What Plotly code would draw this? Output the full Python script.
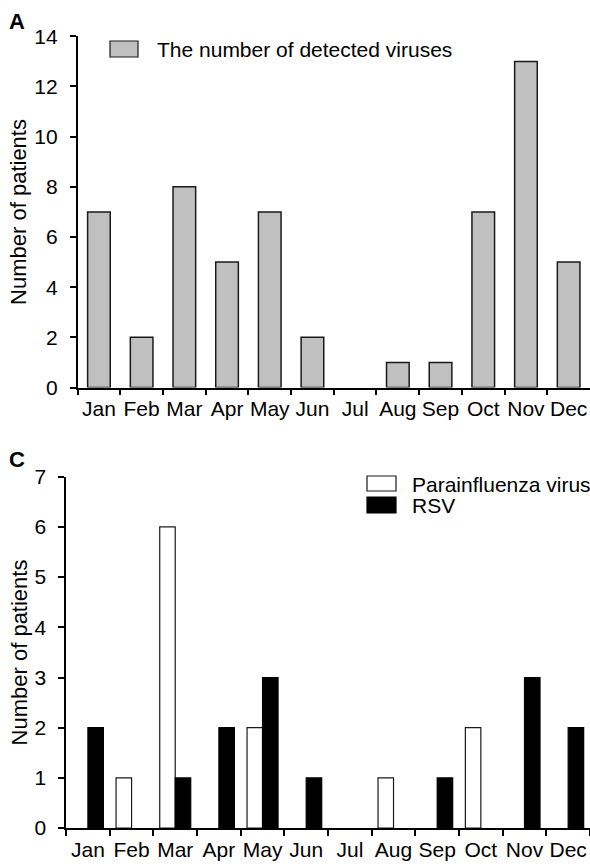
import plotly.graph_objects as go

months = ["Jan", "Feb", "Mar", "Apr", "May", "Jun", "Jul", "Aug", "Sep", "Oct", "Nov", "Dec"]
detected = [7, 2, 8, 5, 7, 2, 0, 1, 1, 7, 13, 5]
parainfluenza = [0, 1, 6, 0, 2, 0, 0, 1, 0, 2, 0, 0]
rsv = [2, 0, 1, 2, 3, 1, 0, 0, 1, 0, 3, 2]
y_title = "Number of patients"

W, H = 590, 866
FONT = "Liberation Sans, Arial, sans-serif"

def px(x):
    return x / W

def py(y):
    return 1 - y / H

def lw(vals, w):
    return [w if v > 0 else 0 for v in vals]

fig = go.Figure()
fig.add_trace(go.Bar(x=months, y=detected, name="The number of detected viruses",
                     marker=dict(color="#c0c0c0", line=dict(color="#1a1a1a", width=lw(detected, 1.5))),
                     width=0.53, xaxis="x", yaxis="y", showlegend=False))
fig.add_trace(go.Bar(x=months, y=parainfluenza, name="Parainfluenza virus",
                     marker=dict(color="white", line=dict(color="#1a1a1a", width=lw(parainfluenza, 1.2))),
                     offsetgroup="p", xaxis="x2", yaxis="y2", showlegend=False))
fig.add_trace(go.Bar(x=months, y=rsv, name="RSV",
                     marker=dict(color="black", line=dict(color="black", width=lw(rsv, 1.2))),
                     offsetgroup="r", xaxis="x2", yaxis="y2", showlegend=False))

xcommon = dict(type="category", categoryorder="array", categoryarray=months,
               tickson="boundaries", ticks="outside", ticklen=6, tickwidth=1.5,
               tickcolor="black", showline=True, linecolor="black", linewidth=1.5,
               showgrid=False, zeroline=False, range=[-0.5, 11.5], tickangle=0,
               automargin=False,
               tickfont=dict(family=FONT, size=21, color="black"), ticklabelstandoff=2)
ycommon = dict(ticks="outside", ticklen=6, tickwidth=1.5, tickcolor="black",
               showline=True, linecolor="black", linewidth=1.5, showgrid=False,
               zeroline=False, tickfont=dict(family=FONT, size=21, color="black"),
               ticklabelstandoff=8, automargin=False)

yA = [0.5525, 0.9581]
yC = [0.04376, 0.4495]

fig.update_layout(
    width=W, height=H,
    margin=dict(l=0, r=0, t=0, b=0, pad=0, autoexpand=False),
    paper_bgcolor="white", plot_bgcolor="white",
    barmode="group", bargap=0.29, bargroupgap=0,
    xaxis=dict(xcommon, domain=[0.1315, 1.0], anchor="y"),
    yaxis=dict(ycommon, domain=yA, range=[0, 14], dtick=2, anchor="x"),
    xaxis2=dict(xcommon, domain=[0.112, 1.0], anchor="y2"),
    yaxis2=dict(ycommon, domain=yC, range=[0, 7], dtick=1, anchor="x2"),
    font=dict(family=FONT, color="black"),
)

# Y-axis titles
for dom in (yA, yC):
    fig.add_annotation(xref="paper", yref="paper", x=px(19), y=(dom[0] + dom[1]) / 2,
                       text=y_title, textangle=-90, showarrow=False,
                       xanchor="center", yanchor="middle",
                       font=dict(family=FONT, size=22, color="black"))

# Legend boxes (drawn as decoration)
legend_boxes = [
    (110, 41, 138, 57, "#c0c0c0", "#1a1a1a"),
    (367, 476, 396, 491, "white", "#1a1a1a"),
    (367, 497, 396, 513, "black", "black"),
]
for x0, y0, x1, y1, fc, lc in legend_boxes:
    fig.add_shape(type="rect", xref="paper", yref="paper",
                  x0=px(x0), x1=px(x1), y0=py(y1), y1=py(y0),
                  fillcolor=fc, line=dict(color=lc, width=1.2))

legend_texts = [
    (155, 49, "The number of detected viruses"),
    (410, 484, "Parainfluenza virus"),
    (410, 505, "RSV"),
]
for x, y, t in legend_texts:
    fig.add_annotation(xref="paper", yref="paper", x=px(x), y=py(y), text=t,
                       showarrow=False, xanchor="left", yanchor="middle",
                       font=dict(family=FONT, size=21, color="black"))

for x, y, t in [(17, 21, "A"), (17, 460, "C")]:
    fig.add_annotation(xref="paper", yref="paper", x=px(x), y=py(y), text="<b>%s</b>" % t,
                       showarrow=False, xanchor="center", yanchor="middle",
                       font=dict(family=FONT, size=22, color="black"))

fig.write_html("out.html", config={"displayModeBar": False},
               post_script="document.body.style.margin='0px';document.body.style.overflow='hidden';")
